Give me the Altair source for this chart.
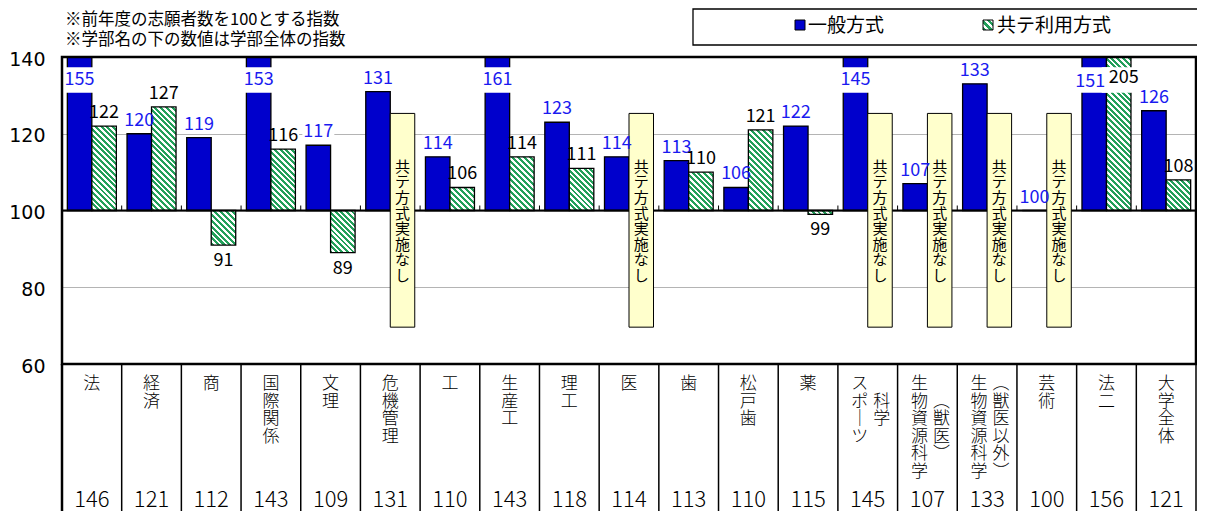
import altair as alt
import pandas as pd

# ---------------- data ----------------
cats = ["法", "経済", "商", "国際関係", "文理", "危機管理", "工", "生産工", "理工", "医",
        "歯", "松戸歯", "薬", "スポーツ科学", "生物資源科学(獣医)", "生物資源科学(獣医以外)",
        "芸術", "法二", "大学全体"]
general = [155, 120, 119, 153, 117, 131, 114, 161, 123, 114, 113, 106, 122, 145, 107, 133, 100, 151, 126]
kyotei = [122, 127, 91, 116, 89, None, 106, 114, 111, None, 110, 121, 99, None, None, None, None, 205, 108]
overall = [146, 121, 112, 143, 109, 131, 110, 143, 118, 114, 113, 110, 115, 145, 107, 133, 100, 156, 121]

# vertical (tategaki) label columns: main column and optional second column
label_col1 = ["法", "経済", "商", "国際関係", "文理", "危機管理", "工", "生産工", "理工", "医",
              "歯", "松戸歯", "薬", "スポ｜ツ", "生物資源科学", "生物資源科学", "芸術", "法二", "大学全体"]
label_col2 = ["", "", "", "", "", "", "", "", "", "", "", "", "", "　科学", "　︵獣医︶", "︵獣医以外︶", "", "", ""]

note_text = "共テ方式実施なし"
title_lines = ["※前年度の志願者数を100とする指数", "※学部名の下の数値は学部全体の指数"]
legend_labels = ["一般方式", "共テ利用方式"]
y_ticks = [60, 80, 100, 120, 140]

# ---------------- style ----------------
BLUE = "#0000CC"
LBLUE = "#1A1AF0"
GREEN = "#23A05A"
YELLOW = "#FFFFCC"
JP = "Noto Sans CJK JP"
W, H = 1134, 307
YMIN, YMAX = 60, 140
PY = H / (YMAX - YMIN)
STEP = W / len(cats)
PAD_OUT = 0.218
SUBBW = STEP / (2 + 2 * PAD_OUT)
CLIP_V = 134.0          # label position for bars running past the top
NOTE_TOP, NOTE_BOT, NOTE_TXT = 125.3, 69.6, 113.2
LABEL_TOP_V = YMIN - 12.3 / PY
NUM_BASE_V = YMIN - 143 / PY


def vert(s):
    return "\n".join(list(s))


def hatch(w, h, period=5.8, frac=0.52):
    L = w + h
    n = max(1, round(L / period))
    d = w * w + h * h
    x2 = L * w / d
    y2 = 1 - L * h / d
    stops = []
    for k in range(n):
        a, b, c = k / n, (k + frac) / n, (k + 1) / n
        stops += [{"offset": round(a, 5), "color": GREEN},
                  {"offset": round(b, 5), "color": GREEN},
                  {"offset": round(b, 5), "color": "white"},
                  {"offset": round(c, 5), "color": "white"}]
    return {"gradient": "linear", "x1": 0, "y1": 1, "x2": x2, "y2": y2, "stops": stops}


AXIS = alt.Axis(values=y_ticks, title=None, grid=True, gridColor="#B4B4B4", gridWidth=1,
                ticks=False, tickSize=0, domain=False, labelFont="DejaVu Sans", labelFontSize=19,
                labelColor="black", labelPadding=17, labelOffset=2)
YSCALE = alt.Scale(domain=[YMIN, YMAX], nice=False, zero=False)


def xenc(bp=None):
    if bp is None:
        return alt.X("cat:N", scale=alt.Scale(domain=cats, paddingInner=0, paddingOuter=0), axis=None)
    return alt.X("cat:N", bandPosition=bp, scale=alt.Scale(domain=cats, paddingInner=0, paddingOuter=0), axis=None)


XO = alt.XOffset("series:N", scale=alt.Scale(domain=["gen", "kyo"], paddingInner=0, paddingOuter=PAD_OUT))


def yenc(f):
    return alt.Y(f + ":Q", scale=YSCALE, axis=AXIS)


# ---------------- tables ----------------
rows = []
for c, g, k in zip(cats, general, kyotei):
    rows.append({"cat": c, "series": "gen", "v": g, "base": 100})
    if k is not None:
        rows.append({"cat": c, "series": "kyo", "v": k, "base": 100})
bars = pd.DataFrame(rows)

both_clipped = {c for c, g, k in zip(cats, general, kyotei) if g > YMAX and k is not None and k > YMAX}

lab = []
for r in rows:
    v = r["v"]
    kind = "clip" if v > YMAX else ("neg" if v < 100 else "pos")
    if kind == "clip":
        ly, b0, b1 = CLIP_V, CLIP_V - 3.3, CLIP_V + 3.3
        if r["cat"] in both_clipped:
            kind = "clipL" if r["series"] == "gen" else "clipR"
    elif kind == "pos":
        ly, b0, b1 = v, v + 4 / PY, v + 22 / PY
    else:
        ly, b0, b1 = v, v - 5 / PY, v - 23 / PY
    lab.append({"cat": r["cat"], "series": r["series"], "txt": str(v),
                "col": LBLUE if r["series"] == "gen" else "black",
                "ly": ly, "b0": b0, "b1": b1, "kind": kind})
labs = pd.DataFrame(lab)
is_clip = labs.kind.str.startswith("clip")

notes = pd.DataFrame([{"cat": c, "series": "kyo", "top": NOTE_TOP, "bot": NOTE_BOT,
                       "ty": NOTE_TXT, "txt": vert(note_text)}
                      for c, k in zip(cats, kyotei) if k is None])

catlab = pd.DataFrame({"cat": cats, "t1": [vert(s) for s in label_col1],
                       "t2": [vert(s) for s in label_col2],
                       "two": [s != "" for s in label_col2],
                       "ly": LABEL_TOP_V,
                       "num": [str(o) for o in overall], "ny": NUM_BASE_V})

edges = pd.DataFrame({"cat": cats, "top": YMIN, "bot": 15.0})
ticks = pd.DataFrame({"cat": cats[1:], "a": 100.0, "b": 100 + 5 / PY})
hundred = pd.DataFrame({"v": [100]})
one = pd.DataFrame({"a": [0]})

layers = []

# white boxes behind ordinary labels (cut the gridlines only)
layers.append(alt.Chart(labs[~is_clip]).mark_bar(size=32, fill="white").encode(
    x=xenc(), xOffset=XO, y=yenc("b0"), y2=alt.Y2("b1")))

# general bars
layers.append(alt.Chart(bars[bars.series == "gen"]).mark_bar(
    fill=BLUE, stroke="black", strokeWidth=1.3, clip=True).encode(
    x=xenc(), xOffset=XO, y=yenc("v"), y2=alt.Y2("base")))

# hatched kyotei bars, one layer each so the stripes keep their pitch
for r in rows:
    if r["series"] != "kyo":
        continue
    h = abs(r["v"] - 100) * PY
    layers.append(alt.Chart(pd.DataFrame([r])).mark_bar(
        fill=hatch(SUBBW, max(h, 1)), stroke="black", strokeWidth=1.3, clip=True).encode(
        x=xenc(), xOffset=XO, y=yenc("v"), y2=alt.Y2("base")))

# 100 baseline and category ticks
layers.append(alt.Chart(hundred).mark_rule(color="black", strokeWidth=2.2).encode(y=yenc("v")))
layers.append(alt.Chart(ticks).mark_rule(color="black", strokeWidth=1).encode(
    x=xenc(0), y=yenc("a"), y2=alt.Y2("b")))

# "no kyotei" notes
layers.append(alt.Chart(notes).mark_bar(fill=YELLOW, stroke="black", strokeWidth=1).encode(
    x=xenc(), xOffset=XO, y=yenc("top"), y2=alt.Y2("bot")))
layers.append(alt.Chart(notes).mark_text(font=JP, fontSize=15, lineBreak="\n",
                                         lineHeight=15.6, baseline="top", color="black").encode(
    x=xenc(), xOffset=XO, y=yenc("ty"), text="txt:N"))

# white boxes behind labels of bars that pass the top
layers.append(alt.Chart(labs[is_clip]).mark_bar(size=34, fill="white").encode(
    x=xenc(), xOffset=XO, y=yenc("b0"), y2=alt.Y2("b1")))

# value labels
for kind, props in [("pos", dict(baseline="alphabetic", dy=-8)),
                    ("neg", dict(baseline="top", dy=7)),
                    ("clip", dict(baseline="middle", dy=0)),
                    ("clipL", dict(baseline="middle", dy=2, dx=-4)),
                    ("clipR", dict(baseline="middle", dy=-2, dx=5))]:
    sub = labs[labs.kind == kind]
    if len(sub) == 0:
        continue
    layers.append(alt.Chart(sub).mark_text(font=JP, fontSize=18, **props).encode(
        x=xenc(), xOffset=XO, y=yenc("ly"), text="txt:N", color=alt.Color("col:N", scale=None)))

# frame of the plot
layers.append(alt.Chart(one).mark_rect(filled=False, stroke="black", strokeWidth=2.5).encode(
    x=alt.value(0), x2=alt.value(W), y=alt.value(0), y2=alt.value(H)))

# table under the plot: dividers, names, overall index
layers.append(alt.Chart(edges).mark_rule(color="black", strokeWidth=1.5).encode(
    x=xenc(0), y=yenc("top"), y2=alt.Y2("bot")))
layers.append(alt.Chart(edges.iloc[[-1]]).mark_rule(color="black", strokeWidth=1.5).encode(
    x=xenc(1), y=yenc("top"), y2=alt.Y2("bot")))
layers.append(alt.Chart(edges.iloc[[0]]).mark_rule(color="black", strokeWidth=2.5).encode(
    x=xenc(0), y=yenc("top"), y2=alt.Y2("bot")))

single = catlab[~catlab.two]
double = catlab[catlab.two]
txt_common = dict(font=JP, fontSize=17, fontWeight=300, lineBreak="\n", lineHeight=17.5,
                  baseline="top", color="black")
layers.append(alt.Chart(single).mark_text(**txt_common).encode(x=xenc(), y=yenc("ly"), text="t1:N"))
layers.append(alt.Chart(double).mark_text(dx=-8, **txt_common).encode(x=xenc(), y=yenc("ly"), text="t1:N"))
layers.append(alt.Chart(double).mark_text(dx=14, **txt_common).encode(x=xenc(), y=yenc("ly"), text="t2:N"))
layers.append(alt.Chart(catlab).mark_text(font=JP, fontSize=22, fontWeight=300, baseline="alphabetic",
                                          color="black").encode(
    x=xenc(), y=yenc("ny"), text="num:N"))

# notes at top-left
for i, t in enumerate(title_lines):
    layers.append(alt.Chart(one).mark_text(font=JP, fontSize=16.5, align="left", baseline="middle",
                                           color="black", text=t).encode(
        x=alt.value(3), y=alt.value(-37 + 20 * i)))

# legend box
layers.append(alt.Chart(one).mark_rect(fill="white", stroke="black", strokeWidth=1.3).encode(
    x=alt.value(631), x2=alt.value(W + 8), y=alt.value(-48), y2=alt.value(-12)))
layers.append(alt.Chart(one).mark_rect(fill=BLUE, stroke="black", strokeWidth=1).encode(
    x=alt.value(733), x2=alt.value(743), y=alt.value(-37), y2=alt.value(-27)))
layers.append(alt.Chart(one).mark_rect(fill=hatch(10, 10, period=7), stroke="black", strokeWidth=1).encode(
    x=alt.value(921), x2=alt.value(931), y=alt.value(-37), y2=alt.value(-27)))
for xpos, t in zip([746, 935], legend_labels):
    layers.append(alt.Chart(one).mark_text(font=JP, fontSize=19, align="left", baseline="middle",
                                           color="black", text=t).encode(
        x=alt.value(xpos), y=alt.value(-31)))

chart = alt.layer(*layers).properties(
    width=W, height=H,
    autosize=alt.AutoSizeParams(type="none"),
    padding={"left": 54, "top": 49, "right": 1, "bottom": 147},
    background="white",
).configure_view(stroke=None)

chart.save("out.html", embed_options={"renderer": "svg", "actions": False})
